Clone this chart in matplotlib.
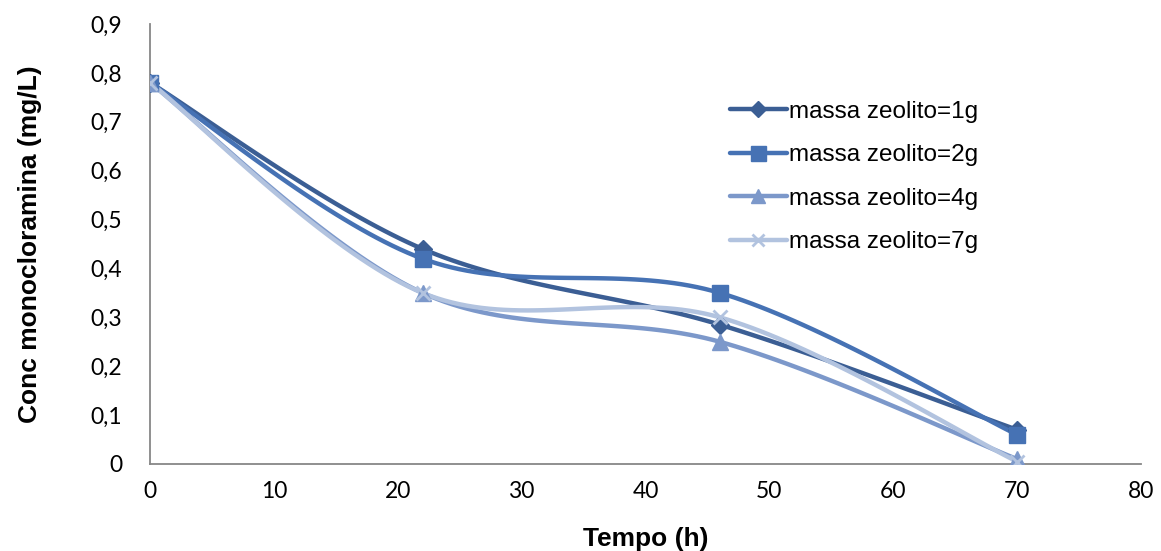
import numpy as np
import matplotlib.pyplot as plt
from matplotlib.ticker import FuncFormatter

# dados
tempo = [0, 22, 46, 70]
massa_1g = [0.78, 0.44, 0.285, 0.07]
massa_2g = [0.78, 0.42, 0.35, 0.06]
massa_4g = [0.78, 0.35, 0.25, 0.01]
massa_7g = [0.78, 0.35, 0.30, 0.005]
rotulos = ['massa zeolito=1g', 'massa zeolito=2g', 'massa zeolito=4g', 'massa zeolito=7g']


def suavizar(x, y, n=40):
    # curva de Bezier com tangentes do tipo Catmull-Rom (linha suavizada)
    p = np.column_stack([x, y]).astype(float)
    p = np.vstack([p[0], p, p[-1]])
    t = np.linspace(0, 1, n)[:, None]
    seg = []
    for i in range(1, len(p) - 2):
        p0, p3 = p[i], p[i + 1]
        c1 = p0 + (p[i + 1] - p[i - 1]) / 6
        c2 = p3 - (p[i + 2] - p[i]) / 6
        b = ((1 - t) ** 3) * p0 + 3 * ((1 - t) ** 2) * t * c1 + 3 * (1 - t) * t ** 2 * c2 + t ** 3 * p3
        seg.append(b if i == 1 else b[1:])
    b = np.vstack(seg)
    return b[:, 0], b[:, 1]


series = [
    (massa_1g, '#3B5E94', 'D', 9),
    (massa_2g, '#4672B4', 's', 12),
    (massa_4g, '#7C98CA', '^', 11),
    (massa_7g, '#B2C3DF', 'x', 10),
]

fig = plt.figure(figsize=(11.61, 5.51), dpi=100)
ax = fig.add_axes([150 / 1161, 87 / 551, 991 / 1161, 440 / 551])

handles = []
for (vals, cor, mk, ms), rot in zip(series, rotulos):
    xs, ys = suavizar(tempo, vals)
    ax.plot(xs, ys, color=cor, lw=3.2, solid_capstyle='round', zorder=2)
    ax.plot(tempo, vals, ls='none', marker=mk, ms=ms, color=cor,
            mec=cor, mew=2 if mk == 'x' else 1, zorder=3)
    h, = ax.plot([], [], color=cor, lw=3.2, marker=mk, ms=ms * 0.9, mec=cor,
                 mew=2 if mk == 'x' else 1, solid_capstyle='round')
    handles.append(h)

ax.set_xlim(0, 80)
ax.set_ylim(0, 0.9)
ax.set_xticks(np.arange(0, 81, 10))
ax.set_yticks(np.arange(0, 0.91, 0.1))
ax.yaxis.set_major_formatter(FuncFormatter(
    lambda v, p: '0' if abs(v) < 1e-9 else f'{v:.1f}'.replace('.', ',')))
ax.tick_params(length=0, labelsize=16.5, pad=12)
for lab in ax.get_xticklabels() + ax.get_yticklabels():
    lab.set_fontfamily('Lato')
ax.tick_params(axis='y', pad=20)

for s in ['top', 'right']:
    ax.spines[s].set_visible(False)
for s in ['left', 'bottom']:
    ax.spines[s].set_color('#878787')
    ax.spines[s].set_linewidth(1.3)

ax.set_xlabel('Tempo (h)', fontsize=19, fontweight='bold', family='Liberation Sans', labelpad=18)
ax.set_ylabel('Conc monocloramina (mg/L)', fontsize=19, fontweight='bold', family='Liberation Sans', labelpad=35)

leg = ax.legend(handles, rotulos, loc='upper left', bbox_to_anchor=(0.563, 0.875),
                frameon=False, prop={'family': 'Liberation Sans', 'size': 17.5},
                handlelength=2.35, handletextpad=0.1, labelspacing=0.88,
                borderaxespad=0.5)

fig.savefig('out.png', dpi=100)
